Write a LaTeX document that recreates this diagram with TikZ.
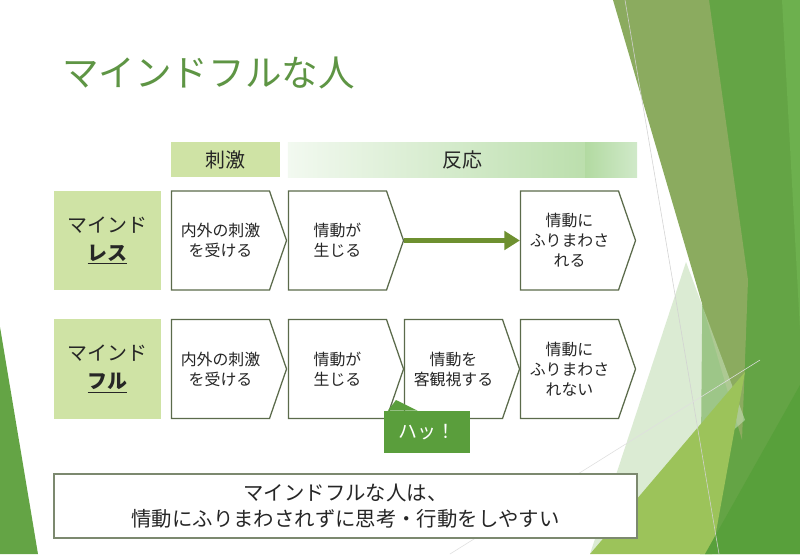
\documentclass[tikz,border=0pt]{standalone}
\usepackage{fontspec}
\setmainfont{Noto Sans CJK JP}
\usetikzlibrary{shapes.symbols,arrows.meta}

\definecolor{titlegreen}{HTML}{5E9544}
\definecolor{labelgreen}{HTML}{CFE3A5}
\definecolor{boxline}{HTML}{5B6B4B}
\definecolor{arrowolive}{HTML}{6E9030}
\definecolor{hatgreen}{HTML}{5A9E3C}
\definecolor{barleft}{HTML}{F2F9F0}
\definecolor{barmid}{HTML}{B2DAA1}
\definecolor{barright}{HTML}{D0E9C9}
\definecolor{inktext}{HTML}{262626}
\definecolor{facetolive}{HTML}{8BAB5F}
\definecolor{facetgreen}{HTML}{64A445}
\definecolor{facetbright}{HTML}{6DB04E}
\definecolor{facetpale}{HTML}{C4DEB6}
\definecolor{facetlime}{HTML}{9CC35A}
\definecolor{facetdeep}{HTML}{58A03B}

\tikzset{
  labelbox/.style={fill=labelgreen, minimum width=2.675cm, minimum height=2.475cm,
    inner sep=0pt, align=center, text=inktext, font=\fontsize{14.2}{20}\selectfont},
  stepbox/.style={shape=signal, signal to=east, signal from=nowhere, signal pointer angle=142,
    draw=boxline, line width=0.9pt, fill=white, minimum width=2.875cm, minimum height=2.475cm,
    inner sep=0pt, align=center, text=inktext, font=\fontsize{11.3}{14.2}\selectfont},
  headbox/.style={minimum height=0.875cm, inner sep=0pt, text=inktext, font=\fontsize{14.2}{16}\selectfont},
}

\begin{document}
\begin{tikzpicture}[x=0.025cm, y=-0.025cm]
    \useasboundingbox (0,0) rectangle (800,554);
    \fill[white] (0,0) rectangle (800,554);
    % facets
    \fill[facetgreen] (705,0) -- (800,0) -- (800,554) -- (700,554) -- cycle;
    \fill[facetbright] (782,0) -- (800,0) -- (800,330) -- cycle;
    \fill[facetolive] (613,0) -- (709,0) -- (748,280) -- (742,440) -- cycle;
    \fill[facetpale, opacity=.6] (686,262) -- (745,420) -- (590,554) -- cycle;
    \fill[facetlime] (590,554) -- (745,372) -- (712,554) -- cycle;
    \fill[facetdeep] (800,385) -- (800,554) -- (705,554) -- cycle;
    \fill[facetgreen] (0,327) -- (38,554) -- (0,554) -- cycle;
    \draw[gray!35, line width=0.4pt] (625,0) -- (719,554);
    \draw[gray!25, line width=0.4pt] (450,554) -- (760,360);

    % title
    \node[anchor=west, inner sep=0pt, text=titlegreen, font=\fontsize{26}{30}\selectfont] (title) at (62,73) {マインドフルな人};

    % headers
    \node[headbox, fill=labelgreen, minimum width=2.725cm] (stim) at (225.5,159.5) {刺激};
    \node[headbox, minimum width=8.725cm, path picture={
        \fill[left color=barleft, right color=barmid] (path picture bounding box.south west) rectangle ([xshift=-1.3cm]path picture bounding box.north east);
        \fill[left color=barmid, right color=barright] ([xshift=-1.3cm]path picture bounding box.south east) rectangle (path picture bounding box.north east);}] (resp) at (462.5,159.5) {反応};

    % mindless row
    \node[labelbox] (less) at (107.5,240.5) {マインド\\\underline{\textbf{レス}}};
    \node[stepbox] (lessA) at (220.5,240.5) {内外の刺激\\を受ける};
    \node[stepbox] (lessB) at (337.5,240.5) {情動が\\生じる};
    \node[stepbox] (lessD) at (569.5,240.5) {情動に\\ふりまわさ\\れる};
    \draw[arrowolive, line width=3.6pt, -{Triangle[length=11pt,width=13pt]}] (lessB.east) -- (lessD.west);

    % mindful row
    \node[labelbox] (full) at (107.5,369) {マインド\\\underline{\textbf{フル}}};
    \node[stepbox] (fullA) at (220.5,369) {内外の刺激\\を受ける};
    \node[stepbox] (fullB) at (337.5,369) {情動が\\生じる};
    \node[stepbox] (fullC) at (453.5,369) {情動を\\客観視する};
    \node[stepbox] (fullD) at (569.5,369) {情動に\\ふりまわさ\\れない};

    % callout
    \coordinate (hattip) at (396,400);
    \node[fill=hatgreen, text=white, minimum width=2.15cm, minimum height=1.05cm, inner sep=0pt,
        font=\fontsize{13.5}{16}\selectfont] (hat) at (427,432) {ハッ！};
    \fill[hatgreen] ([xshift=0.1cm]hat.north west) -- (hattip) -- ([xshift=0.85cm]hat.north west) -- cycle;

    % summary
    \node[draw=boxline!80, line width=0.9pt, fill=white, minimum width=14.575cm, minimum height=1.6cm,
        inner sep=0pt, align=center, text=inktext, font=\fontsize{14.5}{19}\selectfont] (sum) at (345.5,506)
        {マインドフルな人は、\\情動にふりまわされずに思考・行動をしやすい};
\end{tikzpicture}
\end{document}
